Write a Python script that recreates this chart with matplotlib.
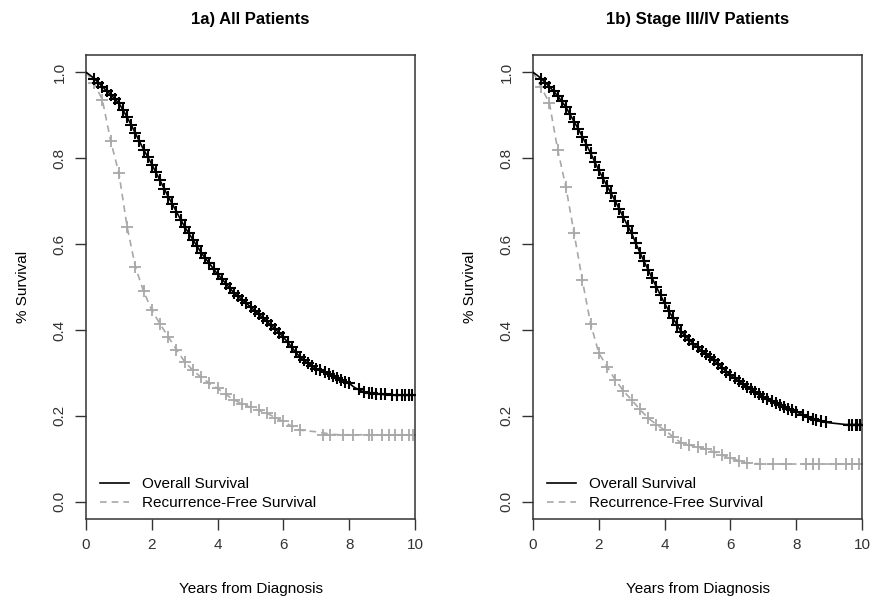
import matplotlib
matplotlib.use("Agg")
import matplotlib.pyplot as plt
import numpy as np

plt.rcParams['font.family'] = ['Liberation Sans', 'DejaVu Sans']

# years from diagnosis (overall survival read every 1/8 year, recurrence-free every 1/4 year)
t_os = np.arange(0, 10.001, 0.125)
t_rfs = np.arange(0, 10.001, 0.25)

# 1a) all patients
os_all = [1.0, 0.993, 0.985, 0.976, 0.966, 0.957, 0.948, 0.938, 0.928, 0.912, 0.895, 0.877,
          0.858, 0.839, 0.82, 0.803, 0.785, 0.767, 0.748, 0.729, 0.71, 0.693, 0.675, 0.657,
          0.64, 0.625, 0.61, 0.595, 0.58, 0.567, 0.555, 0.542, 0.53, 0.519, 0.508, 0.497,
          0.486, 0.478, 0.47, 0.462, 0.454, 0.445, 0.437, 0.428, 0.42, 0.411, 0.402, 0.393,
          0.383, 0.372, 0.36, 0.348, 0.337, 0.329, 0.322, 0.316, 0.31, 0.306, 0.302, 0.298,
          0.294, 0.289, 0.284, 0.28, 0.276, 0.268, 0.262, 0.258, 0.255, 0.253, 0.252, 0.251,
          0.25, 0.249, 0.249, 0.248, 0.248, 0.248, 0.248, 0.248, 0.248]
os_all_tail_t = [8.3, 8.45, 8.6, 8.7, 8.8, 8.95, 9.1, 9.3, 9.45, 9.6, 9.7, 9.8, 9.9]
os_all_tail_s = [0.262, 0.256, 0.254, 0.253, 0.252, 0.251, 0.25, 0.249, 0.249, 0.248, 0.248, 0.248, 0.248]
rfs_all = [1.0, 0.975, 0.935, 0.84, 0.765, 0.64, 0.547, 0.49, 0.446, 0.414, 0.384, 0.354,
           0.326, 0.306, 0.29, 0.276, 0.264, 0.25, 0.237, 0.228, 0.22, 0.213, 0.206, 0.196,
           0.187, 0.176, 0.167, 0.165, 0.163, 0.16, 0.157, 0.156, 0.156, 0.156, 0.156, 0.156,
           0.156, 0.156, 0.156, 0.156, 0.156]
rfs_all_tail = [7.2, 7.4, 7.8, 8.1, 8.6, 8.7, 9.0, 9.2, 9.4, 9.6, 9.8, 9.95]

# 1b) stage III/IV patients
os_34 = [1.0, 0.993, 0.985, 0.976, 0.966, 0.956, 0.945, 0.932, 0.919, 0.902, 0.885, 0.868,
         0.85, 0.831, 0.812, 0.792, 0.772, 0.754, 0.735, 0.718, 0.70, 0.681, 0.662, 0.643,
         0.625, 0.602, 0.58, 0.56, 0.54, 0.52, 0.5, 0.481, 0.462, 0.445, 0.428, 0.412,
         0.396, 0.386, 0.377, 0.368, 0.36, 0.352, 0.345, 0.337, 0.33, 0.321, 0.312, 0.303,
         0.295, 0.288, 0.281, 0.274, 0.268, 0.262, 0.256, 0.25, 0.245, 0.24, 0.235, 0.23,
         0.225, 0.221, 0.217, 0.213, 0.21, 0.205, 0.201, 0.197, 0.193, 0.19, 0.188, 0.186,
         0.184, 0.183, 0.182, 0.181, 0.18, 0.18, 0.18, 0.18, 0.18]
os_34_tail_t = [8.2, 8.35, 8.5, 8.6, 8.75, 8.9, 9.6, 9.7, 9.8, 9.85, 9.95]
os_34_tail_s = [0.201, 0.197, 0.193, 0.191, 0.188, 0.186, 0.18, 0.18, 0.18, 0.18, 0.18]
rfs_34 = [1.0, 0.965, 0.928, 0.82, 0.733, 0.625, 0.516, 0.415, 0.346, 0.315, 0.284, 0.258,
          0.237, 0.215, 0.195, 0.18, 0.167, 0.152, 0.137, 0.132, 0.128, 0.122, 0.116, 0.109,
          0.102, 0.096, 0.09, 0.089, 0.088, 0.088, 0.088, 0.088, 0.088, 0.088, 0.088, 0.088,
          0.088, 0.088, 0.088, 0.088, 0.088]
rfs_34_tail = [6.9, 7.3, 7.7, 8.3, 8.5, 8.7, 9.2, 9.5, 9.7, 9.9]

panels = [("1a) All Patients", os_all, os_all_tail_t, os_all_tail_s, rfs_all, rfs_all_tail, 0.0985),
          ("1b) Stage III/IV Patients", os_34, os_34_tail_t, os_34_tail_s, rfs_34, rfs_34_tail, 0.6105)]

gray = "#a8a8a8"
fig = plt.figure(figsize=(8.73, 6.04), dpi=100)

for title, os_s, os_tt, os_ts, rfs_s, tail, x0 in panels:
    ax = fig.add_axes([x0, 0.1407, 0.377, 0.7682])
    rfs_s = np.array(rfs_s)
    os_s = np.array(os_s)
    # recurrence-free survival
    ax.plot(t_rfs, rfs_s, color=gray, lw=1.2, ls=(0, (4, 3)), zorder=2)
    n_cut = int(np.searchsorted(t_rfs, 6.6))
    ax.plot(t_rfs[1:n_cut], rfs_s[1:n_cut], ls="none", marker="+", ms=9, mew=1.3, color=gray, zorder=2)
    ax.plot(tail, [rfs_s[-1]] * len(tail), ls="none", marker="+", ms=9, mew=1.3, color=gray, zorder=2)
    # overall survival
    ax.plot(t_os, os_s, color="black", lw=1.2, zorder=3)
    n_cut = int(np.searchsorted(t_os, 8.1))
    ax.plot(t_os[2:n_cut], os_s[2:n_cut], ls="none", marker="+", ms=9, mew=1.5, color="black", zorder=3)
    ax.plot(os_tt, os_ts, ls="none", marker="+", ms=9, mew=1.5, color="black", zorder=3)
    ax.plot([], [], color="black", lw=1.2, label="Overall Survival")
    ax.plot([], [], color=gray, lw=1.2, ls=(0, (4, 3)), label="Recurrence-Free Survival")

    ax.set_xlim(0, 10)
    ax.set_ylim(-0.04, 1.04)
    ax.set_xticks([0, 2, 4, 6, 8, 10])
    ax.set_yticks([0.0, 0.2, 0.4, 0.6, 0.8, 1.0])
    ax.set_yticklabels(["0.0", "0.2", "0.4", "0.6", "0.8", "1.0"], rotation=90, va="center")
    ax.tick_params(direction="out", length=8, width=1, labelsize=11, pad=6, colors="#333333")
    for s in ax.spines.values():
        s.set_linewidth(1.1)
        s.set_color("#333333")
    ax.set_title(title, fontsize=12, fontweight="bold", pad=22)
    ax.set_xlabel("Years from Diagnosis", fontsize=11, labelpad=21)
    ax.set_ylabel("% Survival", fontsize=11, labelpad=16)
    ax.legend(loc="lower left", frameon=False, fontsize=11, handlelength=1.9,
              borderaxespad=0.2, labelspacing=0.3, bbox_to_anchor=(0.016, 0.0))

fig.savefig("out.png", dpi=100)
